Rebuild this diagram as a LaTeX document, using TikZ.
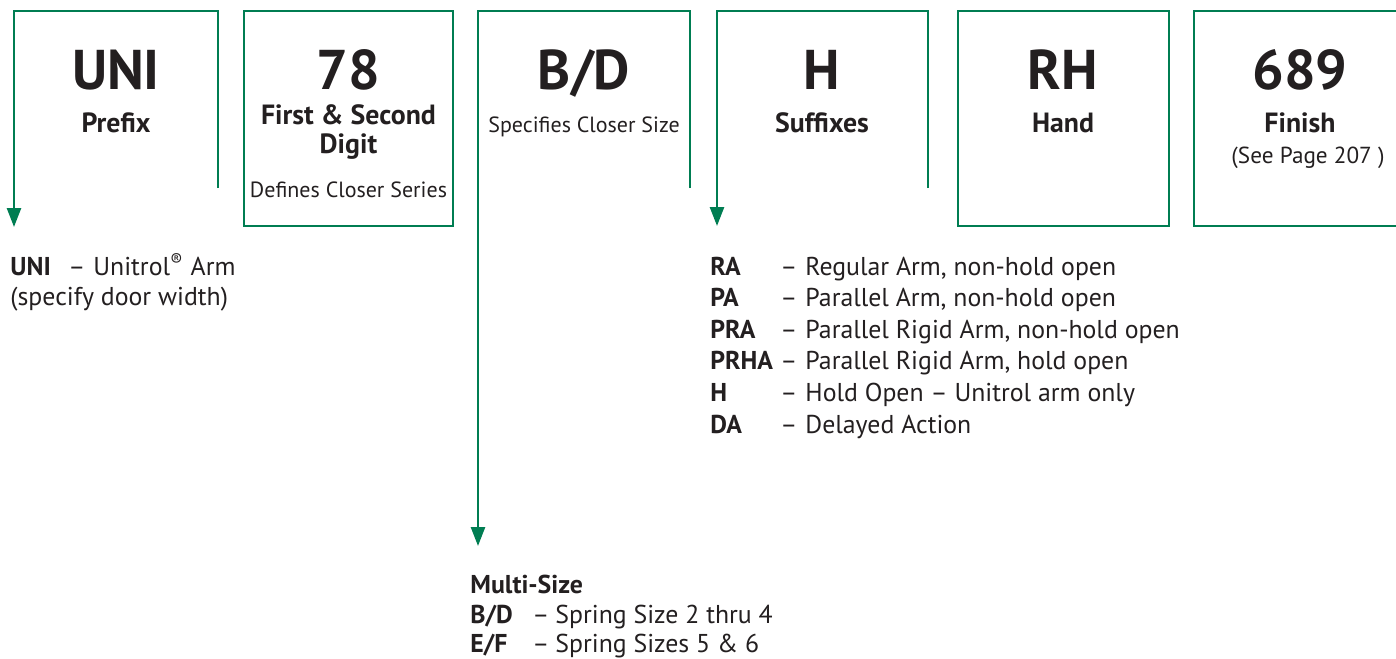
\documentclass[tikz,border=0pt]{standalone}
\usepackage{fontspec}
\setmainfont{PT Sans}
\usetikzlibrary{arrows.meta}
\definecolor{lcngreen}{RGB}{0,125,82}
\definecolor{ink}{RGB}{35,31,32}
\tikzset{
  frame/.style={draw=lcngreen, line width=1.3pt},
  flow/.style={draw=lcngreen, line width=1.3pt, -{Triangle[width=7pt,length=9.5pt]}},
  big/.style={anchor=base, font=\fontsize{28}{30}\selectfont\bfseries, text=ink, inner sep=0pt},
  boxlabel/.style={anchor=base, font=\fontsize{13.9}{16}\selectfont\bfseries, text=ink, inner sep=0pt},
  note/.style={anchor=base, font=\fontsize{11}{13}\selectfont, text=ink, inner sep=0pt},
  codetxt/.style={anchor=base west, font=\fontsize{12.9}{15}\selectfont\bfseries, text=ink, inner sep=0pt},
  desc/.style={anchor=base west, font=\fontsize{12.9}{15}\selectfont, text=ink, inner sep=0pt},
}
\begin{document}
\begin{tikzpicture}[x=0.5pt, y=-0.5pt]
\useasboundingbox (0,0) rectangle (1396,658);
% anchor coordinates for the flows
\coordinate (uniTop) at (218,188);
\coordinate (uniTip) at (14,227);
\coordinate (bdTop) at (690,188);
\coordinate (bdTip) at (478,546);
\coordinate (hTop) at (928,188);
\coordinate (hTip) at (717,226);
% boxes
\draw[flow] (uniTop) -- (218,11) -- (14,11) -- (uniTip);
\draw[frame] (244,11) rectangle (453,226);
\draw[flow] (bdTop) -- (690,11) -- (478,11) -- (bdTip);
\draw[flow] (hTop) -- (928,11) -- (717,11) -- (hTip);
\draw[frame] (958,11) rectangle (1169,226);
\draw[frame] (1410,11) -- (1194,11) -- (1194,226) -- (1410,226);
% box texts
\node[big] (t1) at (116,90) {UNI};
\node[boxlabel] (t1a) at (116,133) {Prefix};
\node[big] (t2) at (348.5,90) {78};
\node[boxlabel] (t2a) at (348.5,125) {First \& Second};
\node[boxlabel] (t2b) at (348.5,153) {Digit};
\node[note] (t2c) at (348.5,197) {Defines Closer Series};
\node[big] (t3) at (584,90) {B/D};
\node[note] (t3a) at (584,133) {Specifies Closer Size};
\node[big] (t4) at (822,90) {H};
\node[boxlabel] (t4a) at (822,133) {Suffixes};
\node[big] (t5) at (1063,90) {RH};
\node[boxlabel] (t5a) at (1063,133) {Hand};
\node[big] (t6) at (1300,90) {689};
\node[boxlabel] (t6a) at (1300,133) {Finish};
\node[note, font=\fontsize{11.6}{13}\selectfont] (t6b) at (1308,163) {(See Page 207 )};
% UNI description
\node[codetxt] (u1) at (10,275) {UNI};
\node[desc] (u1d) at (68,275) {–};
\node[desc] (u1e) at (93,275) {Unitrol\textsuperscript{®} Arm};
\node[desc] (u2) at (10,305) {(specify door width)};
% suffix list
\foreach \c/\d [count=\i from 0] in {RA/Regular Arm{,} non-hold open, PA/Parallel Arm{,} non-hold open, PRA/Parallel Rigid Arm{,} non-hold open, PRHA/Parallel Rigid Arm{,} hold open, H/Hold Open – Unitrol arm only, DA/Delayed Action}{
  \node[codetxt] (s\i) at (710,275+31.6*\i) {\c};
  \node[desc] (sd\i) at (780,275+31.6*\i) {–};
  \node[desc] (se\i) at (805,275+31.6*\i) {\d};
}
% multi-size list
\node[codetxt] (m0) at (470,593) {Multi-Size};
\node[codetxt] (m1) at (470,623) {B/D};
\node[desc] (m1d) at (532,623) {–};
\node[desc] (m1e) at (555,623) {Spring Size 2 thru 4};
\node[codetxt] (m2) at (470,652) {E/F};
\node[desc] (m2d) at (532,652) {–};
\node[desc] (m2e) at (555,652) {Spring Sizes 5 \& 6};
\end{tikzpicture}
\end{document}
